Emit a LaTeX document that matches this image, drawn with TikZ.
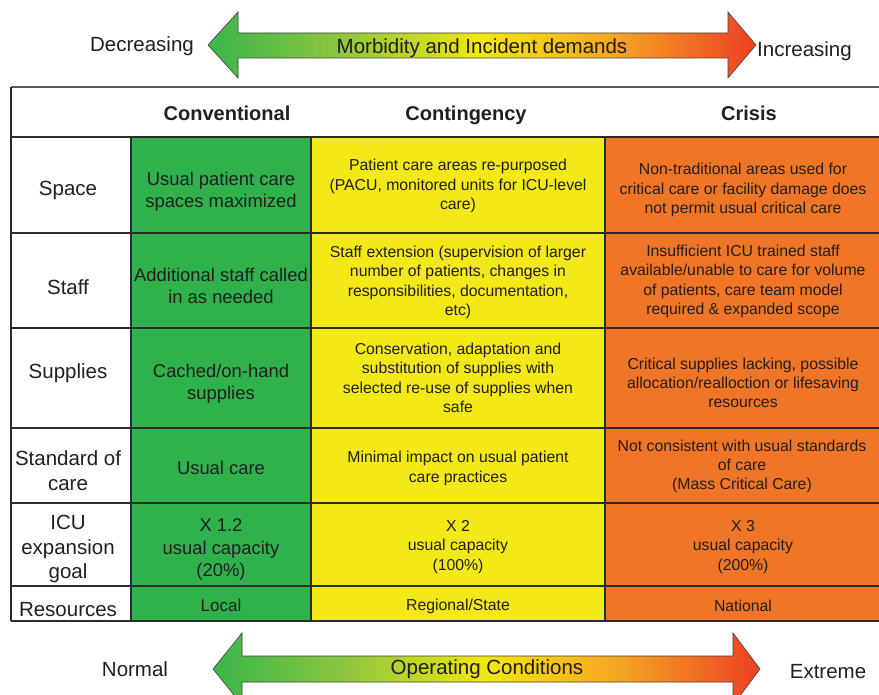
\documentclass[tikz,border=0pt]{standalone}
\usepackage{fontspec}
\setmainfont{Liberation Sans}
\begin{document}
% colours
\definecolor{txt}{HTML}{231F20}
\definecolor{rule}{HTML}{2B2B2B}
\definecolor{cellG}{HTML}{2FB24B}
\definecolor{cellY}{HTML}{F2E916}
\definecolor{cellO}{HTML}{F17526}
\definecolor{gA}{HTML}{3AB54A}
\definecolor{gB}{HTML}{8DC63F}
\definecolor{gY}{HTML}{F2E80F}
\definecolor{gO}{HTML}{F5A623}
\definecolor{gR}{HTML}{EC3F24}
% left-to-right ramp for the two scale arrows
\pgfdeclarehorizontalshading{rampshade}{100bp}{color(0bp)=(gA); color(25bp)=(gA); color(37bp)=(gB); color(50bp)=(gY); color(62bp)=(gO); color(75bp)=(gR); color(100bp)=(gR)}
\begin{tikzpicture}[x=1pt,y=-1pt,
  rulel/.style={draw=rule,line width=1.3pt},
  rampbar/.style={shading=rampshade,draw=black!75,line width=0.6pt,line join=miter},
  endlabel/.style={text=txt,font=\fontsize{20.5}{24}\selectfont,inner sep=0pt,yshift=-2pt},
  barlabel/.style={text=txt,font=\fontsize{20.5}{24}\selectfont,inner sep=0pt,yshift=-2pt},
  colhead/.style={text=txt,font=\fontsize{20}{24}\selectfont\bfseries,inner sep=0pt,anchor=base},
  rowhead/.style={text=txt,font=\fontsize{20.5}{24.5}\selectfont,align=center,inner sep=0pt,yshift=-2pt},
  greentxt/.style={text=txt,font=\fontsize{18.4}{22.3}\selectfont,align=center,inner sep=0pt,yshift=-2pt},
  smalltxt/.style={text=txt,font=\fontsize{15.8}{19.3}\selectfont,align=center,inner sep=0pt,yshift=-2pt}]
\useasboundingbox (0,0) rectangle (879,695);
\clip (0,0) rectangle (879,695);
\fill[white] (0,0) rectangle (879,695);

% column fills
\fill[cellG] (131,137) rectangle (311,621);
\fill[cellY] (311,137) rectangle (605,621);
\fill[cellO] (605,137) rectangle (890,621);

% table rules
\draw[draw=black!65,line width=1.4pt] (11,87) -- (890,87);
\foreach \yy in {137,233,328,428,503,586,621}
  \draw[rulel] (11,\yy) -- (890,\yy);
\draw[rulel] (11,87) -- (11,621);
\foreach \xx in {131,311,605}
  \draw[rulel] (\xx,137) -- (\xx,621);

% column headings
\node[colhead] (hconv) at (227,120.5) {Conventional};
\node[colhead] (hcont) at (466,120.5) {Contingency};
\node[colhead] (hcris) at (749,120.5) {Crisis};

% row headings
\node[rowhead] (rspace) at (68,188) {Space};
\node[rowhead] (rstaff) at (68,285) {Staff};
\node[rowhead] (rsupp) at (68,371) {Supplies};
\node[rowhead] (rstd) at (68,468.5) {Standard of\\care};
\node[rowhead] (ricu) at (68,547) {ICU\\expansion\\goal};
\node[rowhead] (rres) at (68,608) {Resources};

% conventional column
\node[greentxt] (c1) at (221,189.5) {Usual patient care\\spaces maximized};
\node[greentxt] (c2) at (221,284) {Additional staff called\\in as needed};
\node[greentxt] (c3) at (221,381.5) {Cached/on-hand\\supplies};
\node[greentxt] (c4) at (221,466) {Usual care};
\node[greentxt] (c5) at (221,547.5) {X 1.2\\usual capacity\\(20\%)};
\node[smalltxt,font=\fontsize{17}{20}\selectfont] (c6) at (221,603.5) {Local};

% contingency column
\node[smalltxt] (g1) at (458,184) {Patient care areas re-purposed\\(PACU, monitored units for ICU-level\\care)};
\node[smalltxt] (g2) at (458,280.5) {Staff extension (supervision of larger\\number of patients, changes in\\responsibilities, documentation,\\etc)};
\node[smalltxt] (g3) at (458,376) {Conservation, adaptation and\\substitution of supplies with\\selected re-use of supplies when\\safe};
\node[smalltxt] (g4) at (458,466.5) {Minimal impact on usual patient\\care practices};
\node[smalltxt] (g5) at (458,545) {X 2\\usual capacity\\(100\%)};
\node[smalltxt] (g6) at (458,604) {Regional/State};

% crisis column
\node[smalltxt] (k1) at (743,188) {Non-traditional areas used for\\critical care or facility damage does\\not permit usual critical care};
\node[smalltxt] (k2) at (743,279.5) {Insufficient ICU trained staff\\available/unable to care for volume\\of patients, care team model\\required \& expanded scope};
\node[smalltxt] (k3) at (743,381) {Critical supplies lacking, possible\\allocation/realloction or lifesaving\\resources};
\node[smalltxt] (k4) at (742,464.5) {Not consistent with usual standards\\of care\\(Mass Critical Care)};
\node[smalltxt] (k5) at (743,545) {X 3\\usual capacity\\(200\%)};
\node[smalltxt] (k6) at (743,604) {National};

% upper scale arrow
\path[rampbar] (208,45) -- (238,12) -- (238,33) -- (728,33) -- (728,12) -- (756,45)
  -- (728,78) -- (728,58) -- (238,58) -- (238,78) -- cycle;
\node[barlabel] (morb) at (482,46) {Morbidity and Incident demands};
\node[endlabel] (dec) at (142,44) {Decreasing};
\node[endlabel,anchor=west] (inc) at (757,49) {Increasing};

% lower scale arrow
\path[rampbar] (213,669) -- (242,633) -- (242,656) -- (733,656) -- (733,633) -- (760,669)
  -- (733,705) -- (733,682) -- (242,682) -- (242,705) -- cycle;
\node[barlabel] (opcond) at (487,667) {Operating Conditions};
\node[endlabel] (norm) at (135,667) {Normal};
\node[endlabel] (ext) at (828,670) {Extreme};
\end{tikzpicture}
\end{document}
